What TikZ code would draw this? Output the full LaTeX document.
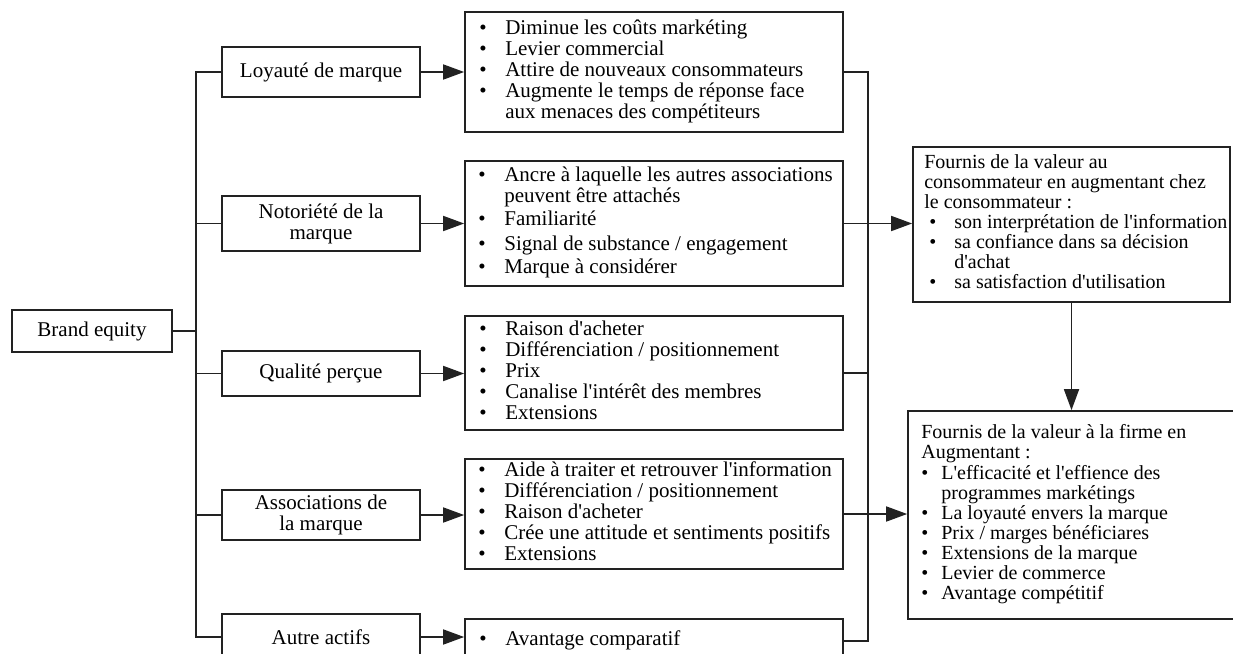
\documentclass[tikz,border=0pt]{standalone}
\usepackage{fontspec}
\setmainfont{Liberation Serif}[Ligatures=TeXOff]
\usetikzlibrary{arrows.meta,calc}
\definecolor{linec}{HTML}{222222}

\tikzset{
  frame/.style={draw=linec, line width=1.7pt, inner sep=0pt},
  link/.style={draw=linec, line width=1.7pt},
  arr/.style={link, -{Triangle[length=21pt,width=15pt]}},
  bigtext/.style={font=\fontsize{21}{21}\selectfont},
  smalltext/.style={font=\fontsize{20}{20}\selectfont},
  leftbox/.style={frame, minimum width=198pt, bigtext, align=center},
  midbox/.style={frame, minimum width=378pt},
  inner/.style={anchor=west, inner sep=0pt},
}

\newcommand\bul{\textbullet}
\newcommand\hd[1]{\multicolumn{2}{@{}l@{}}{#1}}

\begin{document}
\begin{tikzpicture}[x=1pt,y=-1pt]
\clip (0,0) rectangle (1233,653);
\fill[white] (0,0) rectangle (1233,653);

% root
\node[frame, minimum width=160pt, minimum height=42pt, bigtext] (brand) at (92,331) {Brand equity};

% dimensions
\node[leftbox, minimum height=50pt] (loy)   at (321,72)    {Loyauté de marque};
\node[leftbox, minimum height=55pt] (noto)  at (321,223.5) {Notoriété de la\\marque};
\node[leftbox, minimum height=45pt] (qual)  at (321,373.5) {Qualité perçue};
\node[leftbox, minimum height=50pt] (assoc) at (321,515)   {Associations de\\la marque};
\node[leftbox, minimum height=46pt] (autre) at (321,637)   {Autre actifs};

% benefit boxes
\node[midbox, minimum height=120pt] (m1) at (654,72)    {};
\node[midbox, minimum height=125pt] (m2) at (654,223.5) {};
\node[midbox, minimum height=114pt] (m3) at (654,373)   {};
\node[midbox, minimum height=110pt] (m4) at (654,514)   {};
\node[midbox, minimum height=40pt]  (m5) at (654,639)   {};

\node[inner, bigtext] (m1t) at ([xshift=15pt]m1.west) {\begin{tabular}{@{}p{26pt}@{}l@{}}
\bul & Diminue les coûts markéting\\
\bul & Levier commercial\\
\bul & Attire de nouveaux consommateurs\\
\bul & Augmente le temps de réponse face\\
     & aux menaces des compétiteurs
\end{tabular}};

\node[inner, bigtext] (m2t) at ([xshift=14pt]m2.west) {\begin{tabular}{@{}p{26pt}@{}l@{}}
\bul & Ancre à laquelle les autres associations\\
     & peuvent être attachés\\[2pt]
\bul & Familiarité\\[4pt]
\bul & Signal de substance / engagement\\[2pt]
\bul & Marque à considérer
\end{tabular}};

\node[inner, bigtext] (m3t) at ([xshift=15pt]m3.west) {\begin{tabular}{@{}p{26pt}@{}l@{}}
\bul & Raison d'acheter\\
\bul & Différenciation / positionnement\\
\bul & Prix\\
\bul & Canalise l'intérêt des membres\\
\bul & Extensions
\end{tabular}};

\node[inner, bigtext] (m4t) at ([xshift=14pt]m4.west) {\begin{tabular}{@{}p{26pt}@{}l@{}}
\bul & Aide à traiter et retrouver l'information\\
\bul & Différenciation / positionnement\\
\bul & Raison d'acheter\\
\bul & Crée une attitude et sentiments positifs\\
\bul & Extensions
\end{tabular}};

\node[inner, bigtext] (m5t) at ([xshift=15pt,yshift=-2pt]m5.west) {\begin{tabular}{@{}p{26pt}@{}l@{}}
\bul & Avantage comparatif
\end{tabular}};

% value boxes
\node[frame, minimum width=317pt, minimum height=155pt] (r1) at (1071.5,224.5) {};
\node[frame, minimum width=342pt, minimum height=208pt] (r2) at (1079,515) {};

\node[inner, smalltext] (r1t) at ([xshift=12pt]r1.west) {\begin{tabular}{@{}p{30pt}@{}l@{}}
\hd{Fournis de la valeur au}\\
\hd{consommateur en augmentant chez}\\
\hd{le consommateur :}\\
\hspace*{5pt}\bul & son interprétation de l'information\\
\hspace*{5pt}\bul & sa confiance dans sa décision\\
                  & d'achat\\
\hspace*{5pt}\bul & sa satisfaction d'utilisation
\end{tabular}};

\node[inner, smalltext] (r2t) at ([xshift=14pt]r2.west) {\begin{tabular}{@{}p{20pt}@{}l@{}}
\hd{Fournis de la valeur à la firme en}\\
\hd{Augmentant :}\\
\bul & L'efficacité et l'effience des\\
     & programmes markétings\\
\bul & La loyauté envers la marque\\
\bul & Prix / marges bénéficiares\\
\bul & Extensions de la marque\\
\bul & Levier de commerce\\
\bul & Avantage compétitif
\end{tabular}};

% left trunk
\coordinate (lt) at (196,0);
\draw[link] (brand.east) -- (brand.east -| lt);
\draw[link] (loy.west) -- (loy.west -| lt) -- (autre.west -| lt) -- (autre.west);
\draw[link] (noto.west) -- (noto.west -| lt);
\draw[link] (qual.west) -- (qual.west -| lt);
\draw[link] (assoc.west) -- (assoc.west -| lt);

% dimension -> benefits
\draw[arr] (loy.east) -- (loy.east -| m1.west);
\draw[arr] (noto.east) -- (noto.east -| m2.west);
\draw[arr] (qual.east) -- (qual.east -| m3.west);
\draw[arr] (assoc.east) -- (assoc.east -| m4.west);
\draw[arr] (autre.east) -- (autre.east -| m5.west);

% right trunk
\coordinate (rt) at (868,0);
\draw[link] (m1.east) -- (m1.east -| rt) -- ([yshift=-2pt]m5.east -| rt) -- ([yshift=-2pt]m5.east);
\draw[link] (m3.east) -- (m3.east -| rt);
\draw[arr] (m2.east) -- (m2.east -| r1.west);
\draw[arr] (m4.east) -- (m4.east -| r2.west);

% consumer value -> firm value
\draw[arr] (r1.south) -- (r1.south |- r2.north);
\end{tikzpicture}
\end{document}
